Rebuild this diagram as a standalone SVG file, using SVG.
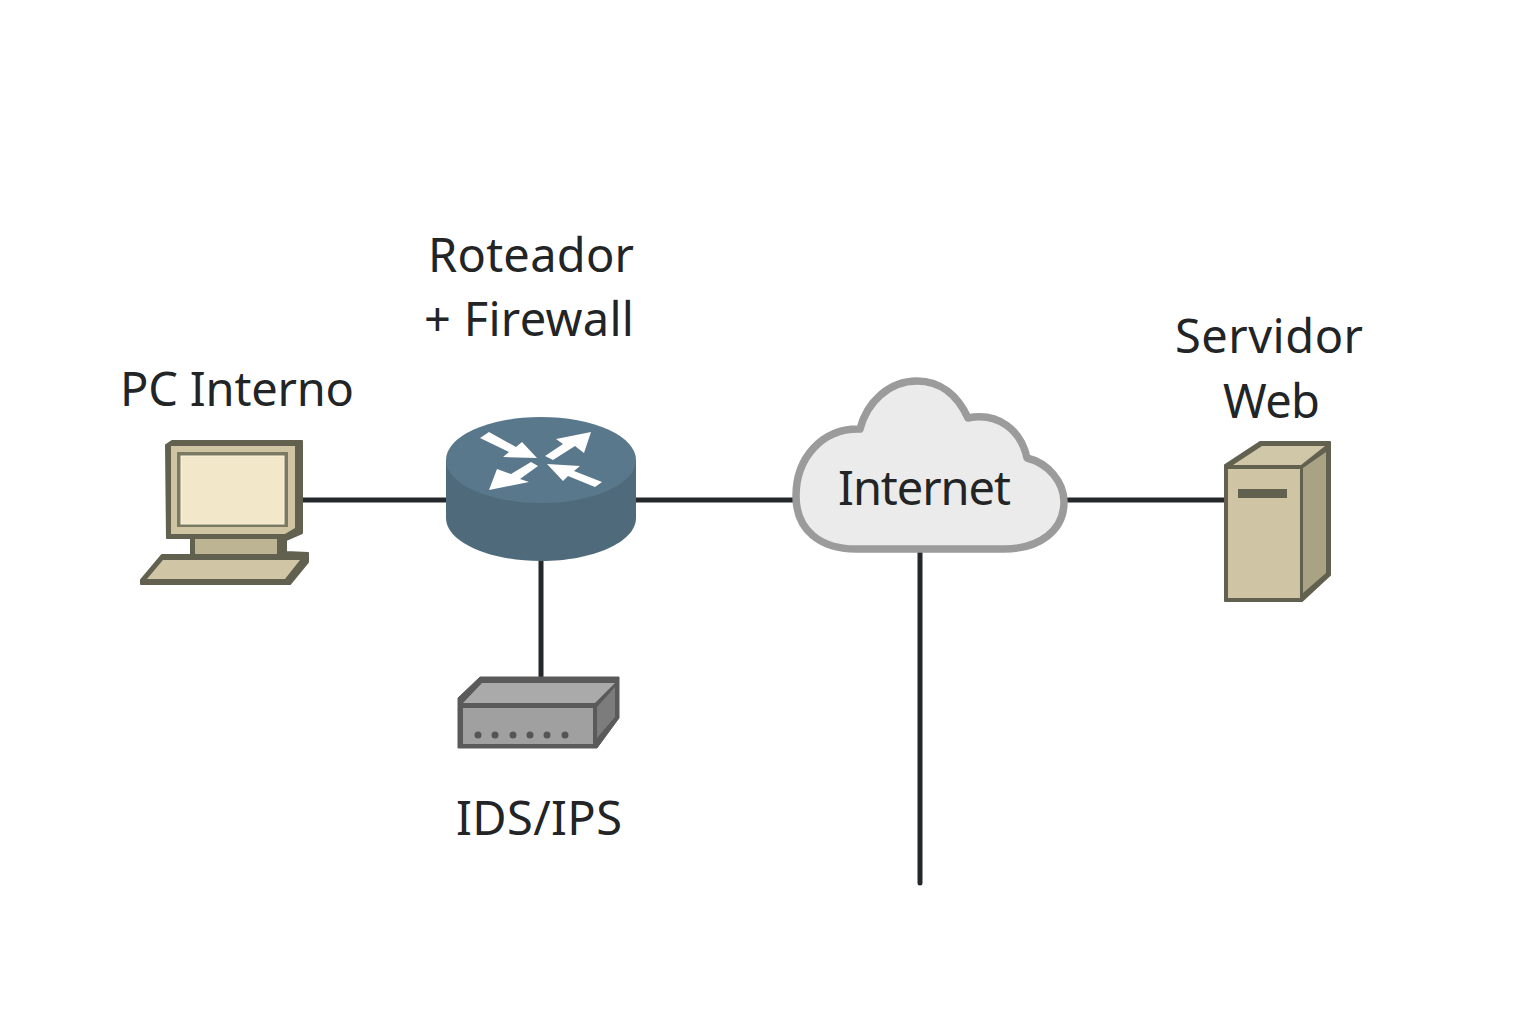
<svg xmlns="http://www.w3.org/2000/svg" width="1536" height="1024" viewBox="0 0 1536 1024">
<style>
.t{font-family:"Noto Sans","Liberation Sans",sans-serif;font-size:47px;fill:#222426}
.c{stroke:#25282a;stroke-width:5;fill:none;stroke-linecap:round}
.o{fill:#626150;stroke:#626150;stroke-width:2;stroke-linejoin:round}
.g{fill:#5a5a5a;stroke:#5a5a5a;stroke-width:1;stroke-linejoin:round}
</style>
<rect width="1536" height="1024" fill="#fff"/>
<g id="connectors">
<path class="c" d="M302 500H446M636 500H793M1068 500H1225M541 561V678M920 553V883"/>
</g>
<g id="pc">
<path class="o" d="M166 445L172 441H302V533L286 540V552L308 553V562L290 584H141V580L162 555H191V538H167Z"/>
<path d="M171 446H295V528L285 534H171Z" fill="#cfc5a3"/>
<rect x="177" y="452" width="111" height="75" fill="#7a7962"/>
<rect x="181" y="456" width="103" height="68" fill="#f2e8c9" stroke="#fbf5df" stroke-width="1"/>
<rect x="195" y="539" width="82" height="15" fill="#bdb493"/>
<path d="M163 560H300L285 579H147Z" fill="#d0c6a6"/>
<text class="t" x="120" y="406" textLength="234">PC Interno</text>
</g>
<g id="router">
<path d="M446 460V518C446 542 489 561 541 561S636 542 636 518V460Z" fill="#4f6b7b"/>
<ellipse cx="541" cy="460" rx="95" ry="43" fill="#5a788c"/>
<path fill="#fff" d="M480 438L489 432L516 447L522 442L537 458L503 457L509 452Z"/>
<path fill="#fff" d="M545 456L563 444L556 439L591 432L584 453L575 446L553 460Z"/>
<path fill="#fff" d="M531 462L538 466L520 479L529 482L489 490L497 469L511 474Z"/>
<path fill="#fff" d="M547 464L580 466L574 471L602 482L595 487L568 476L563 481Z"/>
<text class="t" x="428" y="272" textLength="206">Roteador</text>
<text class="t" x="424" y="336" textLength="210">+ Firewall</text>
</g>
<g id="ids">
<path class="g" d="M458 698L480 677H619V718L597 748H458Z"/>
<path d="M463 703L482 683H615L595 703Z" fill="#aaa"/>
<rect x="463" y="708" width="130" height="36" fill="#a0a0a0"/>
<path d="M597 707L615 687V717L597 738Z" fill="#7c7c7c"/>
<g fill="#555"><circle cx="478" cy="735" r="3.5"/><circle cx="495" cy="735" r="3.5"/><circle cx="513" cy="735" r="3.5"/><circle cx="530" cy="735" r="3.5"/><circle cx="547" cy="735" r="3.5"/><circle cx="565" cy="735" r="3.5"/></g>
<text class="t" x="456" y="835" textLength="166">IDS/IPS</text>
</g>
<g id="internet">
<path d="M860 429C867 402 889 381 917 381C941 381 958 396 968 418C998 412 1021 430 1027 458C1048 463 1064 482 1064 502C1064 530 1040 549 1004 549H856C820 549 796 530 796 496C796 458 822 428 860 429Z" fill="#ebebeb" stroke="#9b9b9b" stroke-width="7.5" stroke-linejoin="round"/>
<text class="t" x="838" y="505" textLength="173">Internet</text>
</g>
<g id="server">
<path class="o" d="M1225 465L1260 442H1330V575L1302 601H1225Z"/>
<rect x="1228" y="469" width="72" height="129" fill="#cfc5a5"/>
<path d="M1233 465L1262 446H1325L1301 465Z" fill="#d0c6a8"/>
<path d="M1303 468L1326 452V573L1303 593Z" fill="#a9a283"/>
<rect x="1238" y="489" width="49" height="9" fill="#626150"/>
<text class="t" x="1175" y="353" textLength="188">Servidor</text>
<text class="t" x="1223" y="418" textLength="97">Web</text>
</g>
</svg>
